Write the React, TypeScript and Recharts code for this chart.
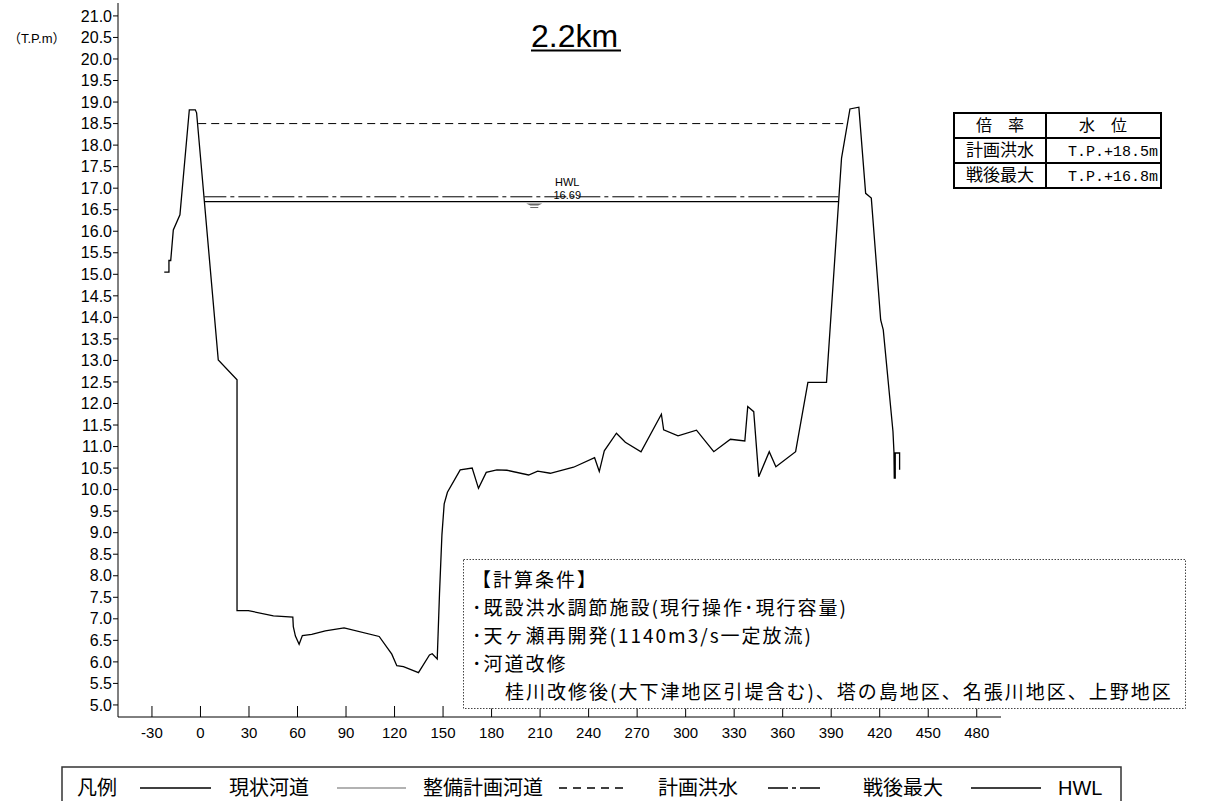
import React from 'react';
import { LineChart, Line, XAxis, YAxis, ReferenceDot } from 'recharts';

// ---- data ----
const profileX = [-22.4, -19.5, -19.5, -18.4, -16.8, -12.7, -6.9, -3.2, -2.4, 11.0, 22.6, 22.6, 29.6, 45.1, 57.1, 57.4, 58.7, 61.0, 63.0, 68.8, 77.2, 88.8, 110.5, 118.3, 121.4, 125.5, 134.8, 141.6, 143.3, 146.4, 147.8, 149.3, 150.7, 152.7, 160.6, 168.0, 171.9, 176.7, 183.3, 189.5, 202.9, 208.5, 216.3, 230.7, 243.7, 246.6, 249.7, 257.2, 262.7, 272.4, 285.0, 286.4, 295.3, 306.7, 317.4, 327.7, 336.6, 338.4, 342.1, 345.2, 351.7, 355.8, 368.0, 375.6, 387.1, 396.4, 401.6, 407.1, 411.3, 414.8, 420.6, 422.2, 428.2, 428.8, 429.0, 429.6, 429.6, 432.3, 432.3];
const profileY = [15.05, 15.05, 15.32, 15.32, 16.03, 16.38, 18.82, 18.82, 18.75, 13.01, 12.55, 7.19, 7.19, 7.07, 7.04, 6.82, 6.60, 6.41, 6.61, 6.64, 6.72, 6.79, 6.59, 6.18, 5.91, 5.89, 5.75, 6.16, 6.19, 6.07, 7.59, 8.95, 9.67, 9.94, 10.46, 10.50, 10.03, 10.40, 10.46, 10.45, 10.34, 10.43, 10.38, 10.52, 10.74, 10.42, 10.90, 11.31, 11.10, 10.88, 11.75, 11.39, 11.25, 11.38, 10.88, 11.17, 11.13, 11.93, 11.81, 10.30, 10.88, 10.53, 10.88, 12.49, 12.49, 17.70, 18.84, 18.88, 16.88, 16.77, 13.94, 13.71, 11.35, 10.88, 10.27, 10.27, 10.85, 10.85, 10.46];

const planFloodLevel = 18.5;
const planFloodX = [-1.4, 399.8];
const postwarLevel = 16.8;
const postwarX = [2.4, 394.7];
const hwlLevel = 16.69;
const hwlX = [2.6, 394.5];
const hwlLabelX = 226.8;
const hwlSymbolX = 206.4;

const xTicks = [-30, 0, 30, 60, 90, 120, 150, 180, 210, 240, 270, 300, 330, 360, 390, 420, 450, 480];
const yTicks = [5.0, 5.5, 6.0, 6.5, 7.0, 7.5, 8.0, 8.5, 9.0, 9.5, 10.0, 10.5, 11.0, 11.5, 12.0, 12.5, 13.0, 13.5, 14.0, 14.5, 15.0, 15.5, 16.0, 16.5, 17.0, 17.5, 18.0, 18.5, 19.0, 19.5, 20.0, 20.5, 21.0];

const sectionTitle = '2.2km';
const unitLabel = '（T.P.m）';
const tableHeader = ['倍\u3000率', '水\u3000位'];
const tableRows = [
  ['計画洪水', 'T.P.+18.5m'],
  ['戦後最大', 'T.P.+16.8m'],
];
const conditions = [
  '【計算条件】',
  '･既設洪水調節施設(現行操作･現行容量)',
  '･天ヶ瀬再開発(1140m3/s一定放流)',
  '･河道改修',
  '桂川改修後(大下津地区引堤含む)、塔の島地区、名張川地区、上野地区',
];
const legendTitle = '凡例';
const legendLabels = ['現状河道', '整備計画河道', '計画洪水', '戦後最大', 'HWL'];

// ---- derived tables ----
const profileData = profileX.map((x, i) => ({ x, y: profileY[i] }));
const levelData = (xs: number[], level: number) => xs.map((x) => ({ x, y: level }));

const JP = '"Noto Sans CJK JP", "Liberation Sans", sans-serif';
const LAT = '"Liberation Sans", Arial, "Noto Sans CJK JP", sans-serif';
const MONO = '"Liberation Mono", "DejaVu Sans Mono", monospace';

const XTick = (props: any) => {
  const { x, y, payload } = props;
  return (
    <g>
      <line x1={x} x2={x} y1={y} y2={y - 11} stroke="#000" strokeWidth={1} />
      <text x={x} y={y + 21} textAnchor="middle" fontSize={15} fontFamily={LAT} fill="#000">
        {payload.value}
      </text>
    </g>
  );
};

const HwlMark = (props: any) => {
  const { cx, cy } = props;
  return (
    <g>
      <path d={`M ${cx - 8} ${cy + 2} L ${cx + 8} ${cy + 2} L ${cx + 4} ${cy + 4} L ${cx - 4} ${cy + 4} Z`} fill="#666" />
      <line x1={cx - 4} x2={cx + 4} y1={cy + 6} y2={cy + 6} stroke="#666" strokeWidth={1} />
    </g>
  );
};

const HwlLabel = (props: any) => {
  const { cx, cy } = props;
  return (
    <g fontFamily={LAT} fontSize={11} fill="#000">
      <text x={cx} y={cy - 16} textAnchor="middle">HWL</text>
      <text x={cx} y={cy - 3} textAnchor="middle">16.69</text>
    </g>
  );
};

export default function App() {
  const legY = 788;
  const seg = (x1: number, x2: number, color: string, dash?: string) => (
    <line x1={x1} x2={x2} y1={legY} y2={legY} stroke={color} strokeWidth={1.3} strokeDasharray={dash} />
  );
  const legText = (x: number, s: string, font = JP) => (
    <text x={x} y={795} fontFamily={font} fontSize={20} fill="#000">{s}</text>
  );
  return (
    <div style={{ position: 'relative', width: 1212, height: 801, overflow: 'hidden', background: '#fff' }}>
      <style>{`body{margin:0}`}</style>
      <div style={{ position: 'absolute', left: 0, top: 0 }}>
        <LineChart width={1212} height={801} margin={{ top: 3, right: 211, bottom: 54, left: 58 }}>
          <XAxis
            type="number"
            dataKey="x"
            domain={[-51, 495]}
            ticks={xTicks}
            interval={0}
            allowDataOverflow
            tickSize={0}
            tickMargin={0}
            tick={<XTick />}
            axisLine={{ stroke: '#000' }}
            height={30}
          />
          <YAxis
            type="number"
            dataKey="y"
            domain={[4.72, 21.3]}
            ticks={yTicks}
            interval={0}
            allowDataOverflow
            width={60}
            tickSize={5}
            tickMargin={1}
            tickFormatter={(v: number) => v.toFixed(1)}
            tick={{ fontSize: 16, fill: '#000', fontFamily: LAT }}
            tickLine={{ stroke: '#000' }}
            axisLine={{ stroke: '#000' }}
          />
          <Line data={levelData(planFloodX, planFloodLevel)} dataKey="y" stroke="#000" strokeWidth={1} strokeDasharray="8 5" dot={false} isAnimationActive={false} />
          <Line data={levelData(postwarX, postwarLevel)} dataKey="y" stroke="#000" strokeWidth={1} strokeDasharray="22 4 4 4" dot={false} isAnimationActive={false} />
          <Line data={levelData(hwlX, hwlLevel)} dataKey="y" stroke="#000" strokeWidth={1.2} dot={false} isAnimationActive={false} />
          <Line data={profileData} dataKey="y" stroke="#000" strokeWidth={1.3} dot={false} isAnimationActive={false} />
          <ReferenceDot x={hwlSymbolX} y={hwlLevel} r={0} shape={<HwlMark />} />
          <ReferenceDot x={hwlLabelX} y={hwlLevel} r={0} shape={<HwlLabel />} />
        </LineChart>
      </div>

      <svg width={1212} height={801} style={{ position: 'absolute', left: 0, top: 0, pointerEvents: 'none' }}>
        {/* unit label */}
        <text x={8} y={43} fontFamily={LAT} fontSize={13} fill="#000">{unitLabel}</text>

        {/* section title */}
        <text x={531} y={47} fontFamily={LAT} fontSize={32} fill="#000">{sectionTitle}</text>
        <line x1={531} x2={621} y1={50.5} y2={50.5} stroke="#000" strokeWidth={2.2} />

        {/* level table */}
        <g>
          <rect x={954} y={113} width={207} height={75} fill="#fff" stroke="#000" strokeWidth={2} />
          <line x1={954} x2={1161} y1={138} y2={138} stroke="#000" strokeWidth={2} />
          <line x1={954} x2={1161} y1={163} y2={163} stroke="#000" strokeWidth={2} />
          <line x1={1046} x2={1046} y1={113} y2={188} stroke="#000" strokeWidth={2} />
          <text x={1000} y={131} textAnchor="middle" fontFamily={JP} fontSize={16} fill="#000">{tableHeader[0]}</text>
          <text x={1103} y={131} textAnchor="middle" fontFamily={JP} fontSize={16} fill="#000">{tableHeader[1]}</text>
          {tableRows.map((r, i) => (
            <g key={r[0]}>
              <text x={1000} y={156 + i * 25} textAnchor="middle" fontFamily={JP} fontSize={17} fill="#000">{r[0]}</text>
              <text x={1158} y={156 + i * 25} textAnchor="end" fontFamily={MONO} fontSize={15} fill="#000">{r[1]}</text>
            </g>
          ))}
        </g>

        {/* calculation conditions */}
        <rect x={463.5} y={559.5} width={722} height={149} fill="#fff" stroke="#444" strokeWidth={1} strokeDasharray="1.5 1.5" />
        {conditions.map((c, i) => (
          <text key={i} x={i === 4 ? 505 : 472} y={587 + i * 28} fontFamily={JP} fontSize={19} letterSpacing={2} fill="#000">
            {c}
          </text>
        ))}

        {/* legend */}
        <rect x={62} y={767} width={1059} height={60} fill="none" stroke="#333" strokeWidth={1.5} />
        {legText(77, legendTitle)}
        {seg(140, 211, '#000')}
        {legText(229, legendLabels[0])}
        {seg(337, 406, '#999')}
        {legText(423, legendLabels[1])}
        {seg(559, 628, '#000', '8 6')}
        {legText(658, legendLabels[2])}
        {seg(768, 822, '#000', '20 4 4 4')}
        {legText(863, legendLabels[3])}
        {seg(971, 1041, '#000')}
        {legText(1058, legendLabels[4], LAT)}
      </svg>
    </div>
  );
}
